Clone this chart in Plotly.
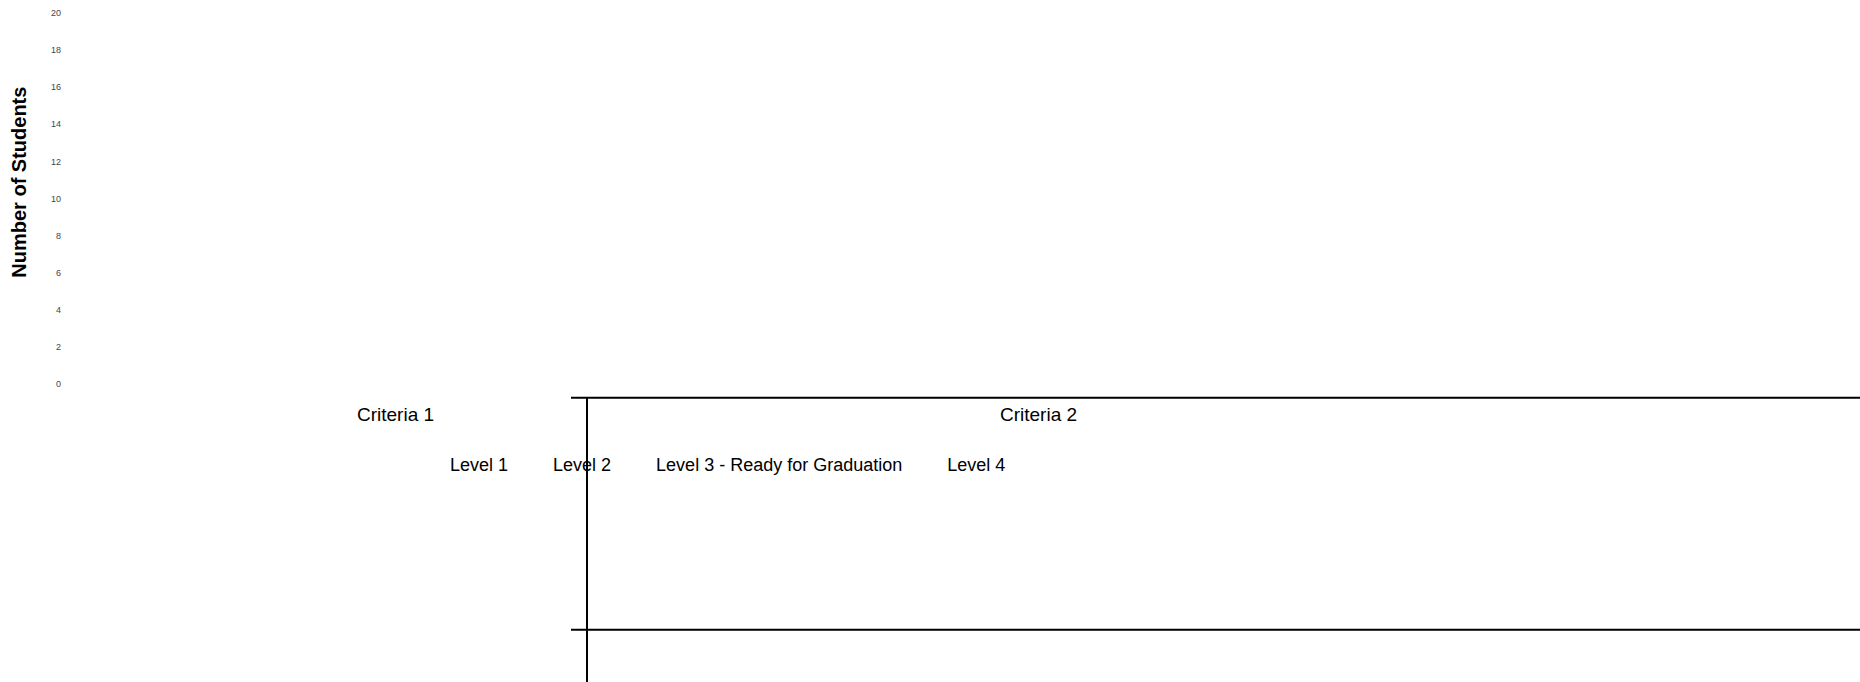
import plotly.graph_objects as go

# ---- data ----
categories = ["Criteria 1", "Criteria 2"]
series_names = ["Level 1", "Level 2", "Level 3 - Ready for Graduation", "Level 4"]
level1 = [0, 0]
level2 = [0, 0]
level3 = [0, 0]
level4 = [0, 0]
series_values = [level1, level2, level3, level4]
y_ticks = [0, 2, 4, 6, 8, 10, 12, 14, 16, 18, 20]

# ---- geometry (pixels) ----
W, H = 1860, 682
ML, MR, MT, MB = 74, 500, 8, 298
PW, PH = W - ML - MR, H - MT - MB


def px_x(p):
    return (p - ML) / PW


def px_y(p):
    return (H - MB - p) / PH


FONT = "Liberation Sans, Arial, Helvetica, sans-serif"

fig = go.Figure()
for name, vals in zip(series_names, series_values):
    fig.add_trace(go.Bar(
        name=name, x=categories, y=vals,
        marker=dict(color="rgba(0,0,0,0)", line=dict(width=0)),
    ))

# decorative frame lines seen in the reference
line_style = dict(color="black", width=2)
shapes = [
    dict(type="line", xref="paper", yref="paper",
         x0=px_x(571), x1=px_x(1860), y0=px_y(398), y1=px_y(398), line=line_style),
    dict(type="line", xref="paper", yref="paper",
         x0=px_x(571), x1=px_x(1860), y0=px_y(633), y1=px_y(633), line=line_style),
    dict(type="line", xref="paper", yref="paper",
         x0=px_x(587), x1=px_x(587), y0=px_y(398), y1=px_y(700), line=line_style),
]

fig.update_layout(
    width=W, height=H,
    margin=dict(l=ML, r=MR, t=MT, b=MB, pad=0),
    paper_bgcolor="white", plot_bgcolor="white",
    font=dict(family=FONT, color="black"),
    barmode="group",
    showlegend=True,
    legend=dict(
        orientation="h", x=px_x(410), xanchor="left",
        y=px_y(465), yanchor="middle",
        font=dict(family=FONT, size=18, color="black"),
        bgcolor="rgba(0,0,0,0)", borderwidth=0,
    ),
    xaxis=dict(
        showgrid=False, zeroline=False, showline=False, ticks="",
        tickfont=dict(family=FONT, size=19, color="black"),
        ticklabelstandoff=17,
    ),
    yaxis=dict(
        range=[0, 20], tickvals=y_ticks,
        showgrid=False, zeroline=False, showline=False, ticks="",
        tickfont=dict(family=FONT, size=9, color="#444444"),
        ticklabelstandoff=12,
    ),
    shapes=shapes,
    annotations=[dict(
        text="<b>Number of Students</b>", textangle=-90,
        xref="paper", yref="paper", x=px_x(19), y=px_y(180),
        xanchor="center", yanchor="middle", showarrow=False,
        font=dict(family=FONT, size=20, color="black"),
    )],
)

fig.write_html("out.html", config={"displayModeBar": False},
               post_script="document.body.style.margin='0';")
